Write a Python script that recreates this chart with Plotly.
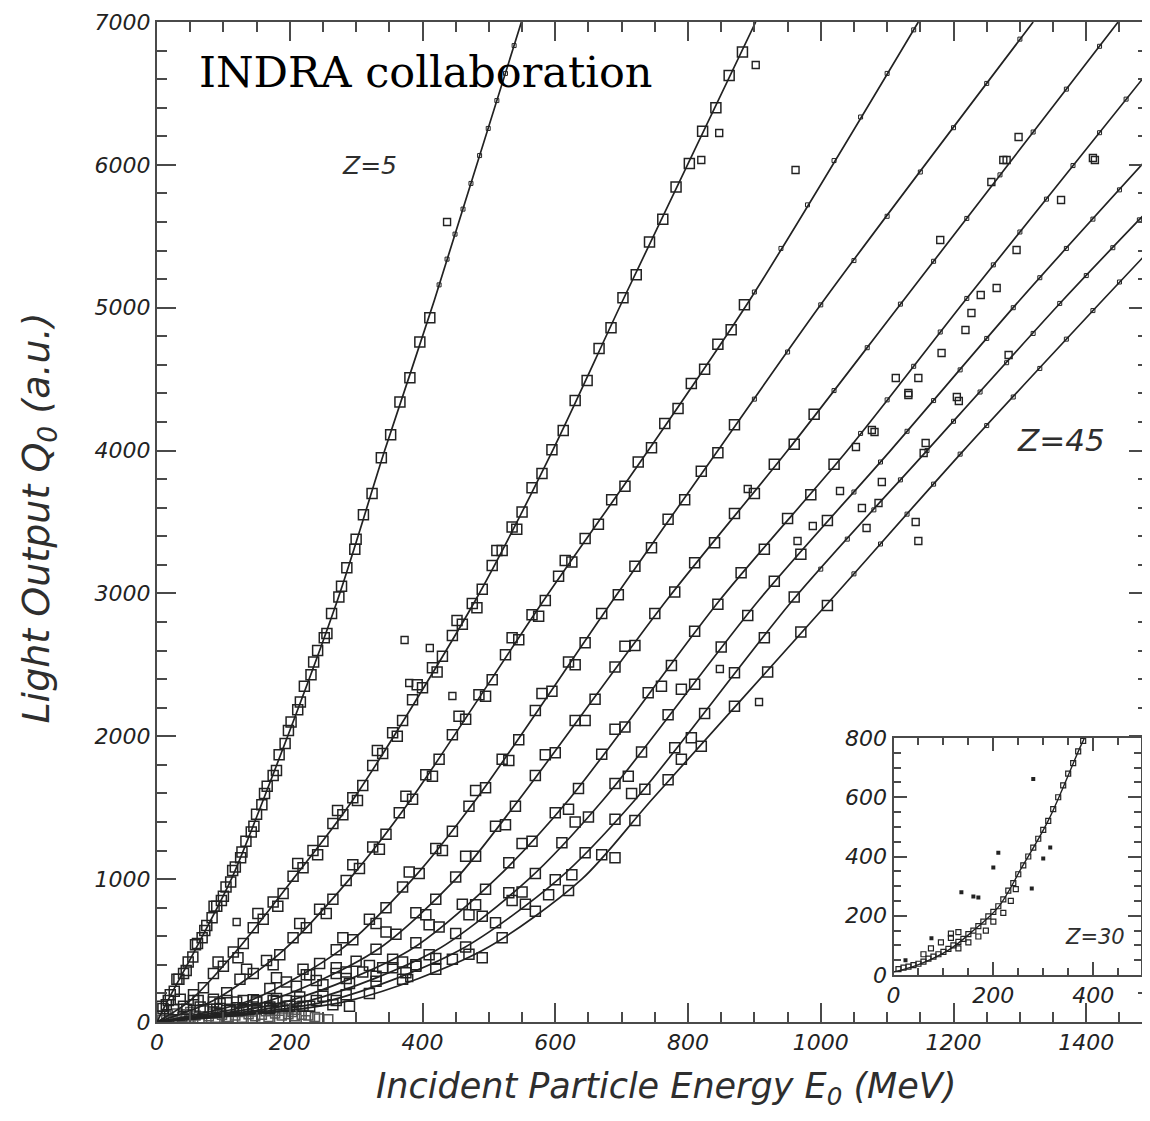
import plotly.graph_objects as go

# ---------------- data ----------------
Z_LABELS = ["Z=5", "Z=10", "Z=15", "Z=20", "Z=25", "Z=30", "Z=35", "Z=40", "Z=45"]

# fitted light-output curves (E in MeV, Q in a.u.)
fit_E_z5 = [0, 15, 57, 112, 160, 272, 343, 418, 549]
fit_Q_z5 = [0, 140, 500, 1000, 1554, 2954, 4000, 5054, 7000]
fit_E_z10 = [0, 50, 120, 205, 295, 480, 596, 702, 902]
fit_Q_z10 = [0, 150, 500, 1000, 1554, 2954, 4000, 5054, 7000]
fit_E_z15 = [0, 85, 190, 290, 382, 583, 740, 893, 1147]
fit_Q_z15 = [0, 150, 500, 1000, 1554, 2954, 4000, 5054, 7000]
fit_E_z20 = [0, 140, 275, 385, 480, 687, 845, 1005, 1320]
fit_Q_z20 = [0, 150, 500, 1000, 1554, 2954, 4000, 5054, 7000]
fit_E_z25 = [0, 170, 330, 450, 545, 768, 950, 1125, 1448]
fit_Q_z25 = [0, 150, 500, 1000, 1554, 2954, 4000, 5054, 7000]
fit_E_z30 = [0, 200, 380, 510, 620, 848, 1040, 1218, 1493]
fit_Q_z30 = [0, 150, 500, 1000, 1554, 2954, 4000, 5054, 6650]
fit_E_z35 = [0, 230, 420, 560, 672, 907, 1105, 1300, 1493]
fit_Q_z35 = [0, 150, 500, 1000, 1554, 2954, 4000, 5054, 6048]
fit_E_z40 = [0, 260, 455, 605, 720, 958, 1160, 1365, 1493]
fit_Q_z40 = [0, 150, 500, 1000, 1554, 2954, 4000, 5054, 5680]
fit_E_z45 = [0, 290, 490, 640, 745, 1015, 1215, 1425, 1493]
fit_Q_z45 = [0, 150, 500, 1000, 1554, 2954, 4000, 5054, 5390]

# measured points (open squares)
pts_E_z5 = [4, 9, 14, 20, 26, 33, 40, 47, 54, 61, 68, 75, 83, 90, 97, 104, 111, 118, 126, 134, 142, 150,
            158, 166, 175, 184, 193, 202, 212, 222, 232, 242, 252, 263, 274, 286, 298, 311, 324, 338, 352,
            366, 381, 396, 411,
            7, 17, 30, 44, 58, 72, 86, 100, 114, 128, 146, 162, 180, 198, 216, 236, 256, 278, 300]
pts_Q_z5 = [40, 95, 120, 190, 215, 300, 340, 420, 455, 550, 590, 675, 730, 810, 850, 945, 980, 1085, 1150,
            1265, 1330, 1455, 1520, 1650, 1725, 1870, 1950, 2100, 2185, 2350, 2430, 2600, 2690, 2860, 2975,
            3180, 3310, 3550, 3700, 3950, 4110, 4340, 4510, 4760, 4930,
            110, 150, 300, 360, 540, 640, 810, 880, 1060, 1190, 1370, 1600, 1760, 2040, 2240, 2520, 2720,
            3050, 3380]
pts_E_z10 = [25, 40, 55, 70, 85, 100, 115, 130, 145, 160, 175, 190, 205, 220, 235, 250, 265, 280, 295, 310,
             325, 340, 355, 370, 385, 400, 415, 430, 445, 460, 475, 490, 505, 520, 535, 550, 565, 580, 595,
             612, 630, 648, 666, 684, 702, 722, 742, 762, 782, 802, 822, 842, 862, 882,
             35, 62, 92, 122, 152, 182, 212, 242, 272, 302, 332, 362, 392, 422, 452, 482, 512, 542]
pts_Q_z10 = [85, 110, 190, 240, 340, 390, 490, 550, 660, 720, 840, 900, 1020, 1080, 1200, 1265, 1390, 1450,
             1570, 1655, 1795, 1880, 2025, 2110, 2255, 2340, 2480, 2560, 2705, 2785, 2930, 3030, 3195, 3300,
             3465, 3570, 3740, 3840, 4005, 4140, 4350, 4490, 4715, 4860, 5070, 5230, 5460, 5620, 5845, 6010,
             6235, 6400, 6625, 6790,
             160, 150, 420, 450, 760, 810, 1110, 1170, 1480, 1550, 1900, 2000, 2360, 2450, 2810, 2900,
             3300, 3450]
pts_E_z15 = [45, 65, 85, 105, 125, 145, 165, 185, 205, 225, 245, 265, 285, 305, 325, 345, 365, 385, 405, 425,
             445, 465, 485, 505, 525, 545, 565, 585, 605, 625, 645, 665, 685, 705, 725, 745, 765, 785, 805,
             825, 845, 865, 885,
             55, 95, 135, 175, 215, 255, 295, 335, 375, 415, 455, 495, 535, 575, 615]
pts_Q_z15 = [90, 105, 160, 205, 300, 340, 430, 470, 590, 660, 790, 860, 990, 1075, 1225, 1315, 1465, 1560,
             1730, 1840, 2010, 2120, 2290, 2395, 2570, 2675, 2850, 2950, 3120, 3220, 3385, 3485, 3655, 3750,
             3920, 4020, 4190, 4295, 4470, 4570, 4745, 4845, 5020,
             150, 130, 370, 400, 690, 760, 1100, 1210, 1580, 1720, 2140, 2280, 2690, 2840, 3230]
pts_E_z20 = [70, 95, 120, 145, 170, 195, 220, 245, 270, 295, 320, 345, 370, 395, 420, 445, 470, 495, 520,
             545, 570, 595, 620, 645, 670, 695, 720, 745, 770, 795, 820, 845, 870,
             85, 130, 180, 230, 280, 330, 380, 430, 480, 530, 580, 630]
pts_Q_z20 = [85, 95, 140, 155, 235, 280, 370, 410, 505, 575, 720, 800, 945, 1040, 1215, 1335, 1510, 1640,
             1840, 1975, 2180, 2315, 2520, 2655, 2860, 2990, 3190, 3320, 3520, 3655, 3855, 3985, 4180,
             140, 90, 310, 330, 590, 690, 1050, 1200, 1620, 1830, 2300, 2500]
pts_E_z25 = [90, 120, 150, 180, 210, 240, 270, 300, 330, 360, 390, 420, 450, 480, 510, 540, 570, 600, 630,
             660, 690, 720, 750, 780, 810, 840, 870, 900, 930, 960, 990,
             105, 165, 225, 285, 345, 405, 465, 525, 585, 645, 705]
pts_Q_z25 = [90, 100, 140, 165, 250, 290, 380, 425, 510, 615, 765, 860, 1015, 1160, 1370, 1510, 1725, 1885,
             2110, 2260, 2485, 2635, 2860, 3010, 3215, 3355, 3560, 3700, 3905, 4045, 4255,
             150, 100, 330, 350, 630, 750, 1160, 1380, 1870, 2110, 2630]
pts_E_z30 = [110, 145, 180, 215, 250, 285, 320, 355, 390, 425, 460, 495, 530, 565, 600, 635, 670, 705, 740,
             775, 810, 845, 880, 915, 950, 985, 1020,
             130, 200, 270, 340, 410, 480, 550, 620, 690, 760]
pts_Q_z30 = [90, 105, 145, 175, 260, 305, 395, 440, 555, 665, 825, 930, 1115, 1265, 1465, 1635, 1875, 2065,
             2305, 2495, 2735, 2925, 3145, 3310, 3525, 3690, 3905,
             150, 110, 340, 380, 680, 820, 1250, 1490, 2050, 2350]
pts_E_z35 = [130, 170, 210, 250, 290, 330, 370, 410, 450, 490, 530, 570, 610, 650, 690, 730, 770, 810, 850,
             890, 930, 970, 1010,
             150, 230, 310, 390, 470, 550, 630, 710, 790]
pts_Q_z35 = [95, 105, 145, 180, 270, 320, 420, 470, 620, 740, 905, 1040, 1255, 1435, 1670, 1890, 2150, 2365,
             2625, 2845, 3085, 3275, 3510,
             150, 110, 350, 400, 750, 910, 1400, 1720, 2330]
pts_E_z40 = [150, 195, 240, 285, 330, 375, 420, 465, 510, 555, 600, 645, 690, 735, 780, 825, 870, 915, 960,
             175, 265, 355, 445, 535, 625, 715, 805]
pts_Q_z40 = [95, 110, 150, 190, 285, 345, 445, 525, 695, 825, 995, 1185, 1420, 1630, 1920, 2160, 2445,
             2690, 2975,
             150, 120, 380, 440, 850, 1030, 1600, 1990]
pts_E_z45 = [170, 220, 270, 320, 370, 420, 470, 520, 570, 620, 670, 720, 770, 820, 870, 920, 970, 1010,
             195, 290, 390, 490, 590, 690, 790]
pts_Q_z45 = [95, 110, 150, 200, 300, 370, 475, 590, 775, 920, 1170, 1410, 1695, 1930, 2210, 2450, 2730, 2915,
             150, 110, 390, 450, 890, 1150, 1840]

# small marks along the upper part of the curves
dot_E_z5 = [425, 437, 449, 461, 473, 486, 499, 512, 525, 538]
dot_Q_z5 = [5160, 5340, 5515, 5690, 5870, 6065, 6255, 6450, 6640, 6835]
dot_E_z15 = [900, 940, 980, 1020, 1060, 1100, 1140]
dot_Q_z15 = [5110, 5415, 5720, 6030, 6335, 6640, 6945]
dot_E_z20 = [900, 950, 1000, 1050, 1100, 1150, 1200, 1250, 1300]
dot_Q_z20 = [4360, 4690, 5020, 5330, 5640, 5950, 6260, 6570, 6880]
dot_E_z25 = [1020, 1070, 1120, 1170, 1220, 1270, 1320, 1370, 1420]
dot_Q_z25 = [4420, 4720, 5025, 5325, 5625, 5930, 6230, 6530, 6830]
dot_E_z30 = [1060, 1100, 1140, 1180, 1220, 1260, 1300, 1340, 1380, 1420, 1460]
dot_Q_z30 = [4120, 4355, 4590, 4830, 5065, 5300, 5530, 5760, 5995, 6225, 6460]
dot_E_z35 = [1050, 1090, 1130, 1170, 1210, 1250, 1290, 1330, 1370, 1410, 1450, 1490]
dot_Q_z35 = [3710, 3920, 4135, 4350, 4565, 4785, 5000, 5210, 5415, 5620, 5825, 6030]
dot_E_z40 = [1000, 1040, 1080, 1120, 1160, 1200, 1240, 1280, 1320, 1360, 1400, 1440, 1480]
dot_Q_z40 = [3170, 3380, 3585, 3795, 4000, 4205, 4410, 4615, 4820, 5030, 5225, 5420, 5615]
dot_E_z45 = [1050, 1090, 1130, 1170, 1210, 1250, 1290, 1330, 1370, 1410, 1450, 1490]
dot_Q_z45 = [3137, 3346, 3555, 3765, 3975, 4175, 4375, 4575, 4780, 4980, 5180, 5375]

# dense cloud of low-energy points near the origin
blob_E = [8, 18, 28, 38, 48, 58, 68, 78, 88, 98, 108, 118, 128, 138, 148, 158, 168, 178, 188, 198, 208,
          218, 228, 238, 30, 50, 70, 90, 110, 130, 150, 170, 190, 210,
          14, 24, 44, 64, 84, 104, 124, 144, 164, 184, 204, 224, 244, 258]
blob_Q = [15, 25, 20, 35, 30, 45, 25, 40, 30, 50, 35, 45, 30, 55, 40, 50, 35, 60, 45, 55, 40, 50, 45, 35,
          60, 70, 80, 70, 85, 75, 90, 80, 95, 85,
          45, 8, 55, 10, 60, 12, 70, 10, 75, 15, 70, 12, 25, 20]

# isolated points away from the curves
out_E = [120, 373, 380, 437, 411, 445, 380, 902, 820, 847, 962, 907, 848, 890, 1280, 1413, 1298, 1257,
         1180, 1362, 1295, 1265, 1227, 1218, 1182, 1147, 1113, 1132, 1205, 1158, 1092, 1062, 1143, 1283,
         1077, 1053, 1132, 1208, 1081, 1029, 1087, 1155, 988, 1069, 965, 1147, 1275, 1410, 1241]
out_Q = [700, 2674, 2373, 5600, 2618, 2282, 308, 6699, 6034, 6223, 5964, 2240, 2471, 3731, 6034, 6034,
         6195, 5880, 5474, 5754, 5404, 5138, 4963, 4844, 4683, 4508, 4508, 4403, 4375, 4053, 3780, 3598,
         3500, 4669, 4144, 4025, 4389, 4347, 4130, 3717, 3633, 3983, 3472, 3458, 3367, 3367, 6034, 6048, 5089]

# inset (Z=30, low energy)
inset_fit_E = [0, 50, 110, 160, 210, 257, 310, 377, 392]
inset_fit_Q = [10, 35, 84, 150, 229, 363, 521, 780, 830]
inset_pts_E = [10, 20, 30, 40, 50, 60, 70, 80, 90, 100, 110, 120, 130, 140, 150, 160, 170, 180, 190, 200,
               210, 220, 230, 240, 250, 260, 270, 280, 290, 300, 310, 320, 330, 340, 350, 360, 370, 380,
               60, 75, 95, 115, 130, 150, 170, 185, 200, 220, 235, 245, 130, 115]
inset_pts_Q = [20, 25, 28, 33, 38, 45, 55, 62, 70, 78, 88, 100, 112, 122, 138, 150, 165, 180, 198, 213,
               232, 255, 285, 310, 340, 370, 400, 430, 460, 490, 520, 560, 600, 640, 680, 715, 755, 790,
               70, 90, 110, 125, 145, 110, 130, 150, 180, 210, 250, 290, 90, 140]
inset_out_E = [280, 210, 200, 136, 160, 170, 314, 300, 277, 76, 24]
inset_out_Q = [662, 413, 363, 279, 265, 262, 430, 393, 292, 124, 50]

x_ticks = [0, 200, 400, 600, 800, 1000, 1200, 1400]
y_ticks = [0, 1000, 2000, 3000, 4000, 5000, 6000, 7000]
inset_x_ticks = [0, 200, 400]
inset_y_ticks = [0, 200, 400, 600, 800]

# ---------------- figure ----------------
INK = "#222222"
AX = "#4a4a4a"
fig = go.Figure()

fits = [(fit_E_z5, fit_Q_z5), (fit_E_z10, fit_Q_z10), (fit_E_z15, fit_Q_z15), (fit_E_z20, fit_Q_z20),
        (fit_E_z25, fit_Q_z25), (fit_E_z30, fit_Q_z30), (fit_E_z35, fit_Q_z35), (fit_E_z40, fit_Q_z40),
        (fit_E_z45, fit_Q_z45)]
pts = [(pts_E_z5, pts_Q_z5), (pts_E_z10, pts_Q_z10), (pts_E_z15, pts_Q_z15), (pts_E_z20, pts_Q_z20),
       (pts_E_z25, pts_Q_z25), (pts_E_z30, pts_Q_z30), (pts_E_z35, pts_Q_z35), (pts_E_z40, pts_Q_z40),
       (pts_E_z45, pts_Q_z45)]
dots = [(dot_E_z5, dot_Q_z5), (dot_E_z15, dot_Q_z15), (dot_E_z20, dot_Q_z20), (dot_E_z25, dot_Q_z25),
        (dot_E_z30, dot_Q_z30), (dot_E_z35, dot_Q_z35), (dot_E_z40, dot_Q_z40), (dot_E_z45, dot_Q_z45)]

fig.add_trace(go.Scatter(x=blob_E, y=blob_Q, mode="markers", showlegend=False,
                         marker=dict(symbol="square-open", size=9, color="#555555", line=dict(width=1.5))))
for (e, q), name in zip(pts, Z_LABELS):
    fig.add_trace(go.Scatter(x=e, y=q, mode="markers", name=name + " data", showlegend=False,
                             marker=dict(symbol="square-open", size=10, color=INK, line=dict(width=1.5))))
for e, q in dots:
    fig.add_trace(go.Scatter(x=e, y=q, mode="markers", showlegend=False,
                             marker=dict(symbol="square-open", size=4, color=INK, line=dict(width=1))))
fig.add_trace(go.Scatter(x=out_E, y=out_Q, mode="markers", showlegend=False,
                         marker=dict(symbol="square-open", size=7, color=INK, line=dict(width=1.4))))
for (e, q), name in zip(fits, Z_LABELS):
    fig.add_trace(go.Scatter(x=e, y=q, mode="lines", name=name, showlegend=False, hoverinfo="skip",
                             line=dict(color=INK, width=1.7, shape="spline", smoothing=0.8)))

# inset
fig.add_trace(go.Scatter(x=inset_fit_E, y=inset_fit_Q, mode="lines", xaxis="x2", yaxis="y2",
                         showlegend=False, line=dict(color=INK, width=1.4, shape="spline")))
fig.add_trace(go.Scatter(x=inset_pts_E, y=inset_pts_Q, mode="markers", xaxis="x2", yaxis="y2",
                         showlegend=False,
                         marker=dict(symbol="square-open", size=5, color=INK, line=dict(width=1.2))))
fig.add_trace(go.Scatter(x=inset_out_E, y=inset_out_Q, mode="markers", xaxis="x2", yaxis="y2",
                         showlegend=False, marker=dict(symbol="square", size=4, color=INK)))

tickfont = dict(family="DejaVu Sans", size=22, color="#222222", style="italic")
axis_common = dict(showline=True, linecolor=AX, linewidth=2, mirror="ticks", ticks="inside",
                   tickcolor=AX, tickwidth=2, showgrid=False, zeroline=False, tickfont=tickfont)

# the page body adds an 8 px offset, so the figure is 8 px smaller than the window
fig.update_layout(
    width=1142, height=1113,
    margin=dict(l=149, r=0, t=14, b=99),
    paper_bgcolor="white", plot_bgcolor="white",
    xaxis=dict(range=[0, 1493], tickvals=x_ticks, ticklen=19,
               minor=dict(ticks="inside", dtick=50, tick0=0, ticklen=10, tickcolor=AX, tickwidth=1.5),
               **axis_common),
    yaxis=dict(range=[0, 7000], tickvals=y_ticks, ticklen=19,
               minor=dict(ticks="inside", dtick=200, tick0=0, ticklen=10, tickcolor=AX, tickwidth=1.5),
               **axis_common),
    xaxis2=dict(domain=[0.7432, 0.9930], anchor="y2", range=[0, 496], tickvals=inset_x_ticks, ticklen=13,
                minor=dict(ticks="inside", dtick=50, tick0=0, ticklen=7, tickcolor=AX, tickwidth=1.5),
                **axis_common),
    yaxis2=dict(domain=[0.047, 0.284], anchor="x2", range=[0, 800], tickvals=inset_y_ticks, ticklen=13,
                minor=dict(ticks="inside", dtick=50, tick0=0, ticklen=7, tickcolor=AX, tickwidth=1.5),
                **axis_common),
)

ann_font = dict(family="DejaVu Sans", color="#2e2e2e", style="italic")
fig.add_annotation(text="INDRA collaboration", xref="paper", yref="paper", x=0.0403, y=0.95,
                   xanchor="left", yanchor="middle", showarrow=False,
                   font=dict(family="DejaVu Serif", size=43, color="black"))
fig.add_annotation(text="Z=5", xref="paper", yref="paper", x=0.2145, y=0.857, showarrow=False,
                   xanchor="center", yanchor="middle", font=dict(size=25, **ann_font))
fig.add_annotation(text="Z=45", xref="paper", yref="paper", x=0.9124, y=0.582, showarrow=False,
                   xanchor="center", yanchor="middle", font=dict(size=31, **ann_font))
fig.add_annotation(text="Z=30", xref="x2", yref="y2", x=404, y=128, showarrow=False,
                   xanchor="center", yanchor="middle", font=dict(size=21, **ann_font))
fig.add_annotation(text="Incident Particle Energy E<sub>0</sub> (MeV)", xref="paper", yref="paper",
                   x=0.5136, y=-0.066, showarrow=False, xanchor="center", yanchor="middle",
                   font=dict(size=35, **ann_font))
fig.add_annotation(text="Light Output Q<sub>0</sub> (a.u.)", xref="paper", yref="paper",
                   x=-0.1205, y=0.504, textangle=-90, showarrow=False, xanchor="center", yanchor="middle",
                   font=dict(size=38, **ann_font))

fig.write_html("out.html")
